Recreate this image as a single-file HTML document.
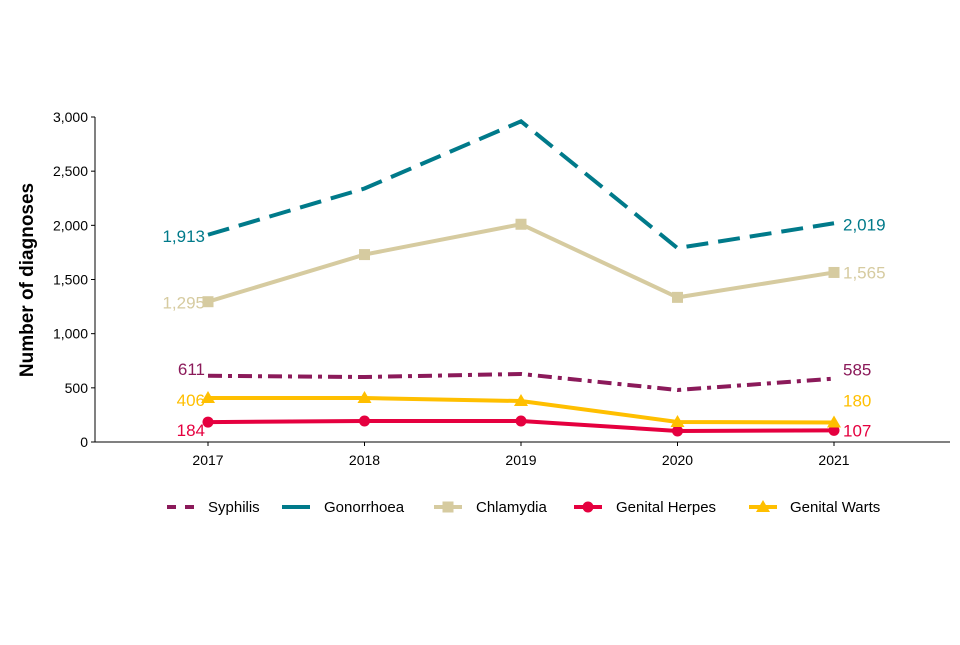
<!DOCTYPE html>
<html><head><meta charset="utf-8"><style>
body{margin:0;background:#fff;font-family:"Liberation Sans",Arial,sans-serif}
</style></head><body>
<svg id="chart" width="960" height="640" font-family="Liberation Sans, Arial, sans-serif"></svg>
<script>
const years=["2017","2018","2019","2020","2021"];
const syphilis=[611,600,628,480,585];
const gonorrhoea=[1913,2340,2960,1790,2019];
const chlamydia=[1295,1730,2010,1335,1565];
const herpes=[184,194,194,102,107];
const warts=[406,406,378,185,180];
const yTicks=[0,500,1000,1500,2000,2500,3000];
const NS="http://www.w3.org/2000/svg";
const svg=document.getElementById('chart');
const x=i=>208+i*156.5;
const y=v=>442-v/3000*325;
function el(t,a,p){const e=document.createElementNS(NS,t);for(const k in a)e.setAttribute(k,a[k]);(p||svg).appendChild(e);return e;}
function fmt(v){return v.toLocaleString('en-US');}
const axes=el('g',{});


el('line',{x1:95,y1:117,x2:95,y2:442,stroke:'#000','stroke-width':1},axes);
el('line',{x1:95,y1:442,x2:950,y2:442,stroke:'#000','stroke-width':1},axes);
yTicks.forEach(v=>{
 el('line',{x1:91,x2:95,y1:y(v),y2:y(v),stroke:'#000'},axes);
 const t=el('text',{x:88,y:y(v)+5,'text-anchor':'end','font-size':14,fill:'#000'},axes);t.textContent=fmt(v);
 
 
});
years.forEach((yr,i)=>{
 el('line',{x1:x(i),x2:x(i),y1:442,y2:446,stroke:'#000'},axes);
 const t=el('text',{x:x(i),y:465,'text-anchor':'middle','font-size':14},axes);t.textContent=yr;
 
 
});
const yt=el('text',{x:33,y:280,'text-anchor':'middle','font-size':19,'font-weight':'bold',transform:'rotate(-90 33 280)'});
yt.textContent='Number of diagnoses';


const series=[
 {name:'Syphilis',d:syphilis,c:'#8b1a5a',dash:'14 6 4 6',m:null,ls:-1,le:-3,lx:167,tx:208},
 {name:'Gonorrhoea',d:gonorrhoea,c:'#007a8a',dash:'22 10',m:null,ls:7,le:7,lx:282,tx:324},
 {name:'Chlamydia',d:chlamydia,c:'#d6cba0',dash:null,m:'sq',ls:7,le:6,lx:434,tx:476},
 {name:'Genital Herpes',d:herpes,c:'#e5003f',dash:null,m:'ci',ls:14,le:6,lx:574,tx:616},
 {name:'Genital Warts',d:warts,c:'#ffbf00',dash:null,m:'tri',ls:8,le:-16,lx:749,tx:790}
];
function marker(type,cx,cy,c,g){
 if(type==='sq')return el('rect',{x:cx-5.5,y:cy-5.5,width:11,height:11,fill:c},g);
 if(type==='ci')return el('circle',{cx:cx,cy:cy,r:5.5,fill:c},g);
 if(type==='tri')return el('polygon',{points:`${cx},${cy-7} ${cx+7},${cy+5} ${cx-7},${cy+5}`,fill:c},g);
}
series.forEach(s=>{
 const g=el('g',{});
 
 
 const a={points:s.d.map((v,i)=>x(i)+','+y(v)).join(' '),fill:'none',stroke:s.c,'stroke-width':4};
 if(s.dash)a['stroke-dasharray']=s.dash;
 el('polyline',a,g);
 if(s.m)s.d.forEach((v,i)=>{const m=marker(s.m,x(i),y(v),s.c,g);});
 const l=el('text',{x:x(0)-3,y:y(s.d[0])+s.ls,'text-anchor':'end','font-size':17,fill:s.c},g);l.textContent=fmt(s.d[0]);
 
 
 const r=el('text',{x:x(4)+9,y:y(s.d[4])+s.le,'text-anchor':'start','font-size':17,fill:s.c},g);r.textContent=fmt(s.d[4]);
 
 
});
const lg=el('g',{});


series.forEach((s,i)=>{
 const g=el('g',{},lg);
 
 
 const a={x1:s.lx,x2:s.lx+28,y1:507,y2:507,stroke:s.c,'stroke-width':4};
 if(s.dash)a['stroke-dasharray']=s.dash==='22 10'?'28 0':'9 9';
 el('line',a,g);
 if(s.m)marker(s.m,s.lx+14,507,s.c,g);
 const t=el('text',{x:s.tx,y:512,'font-size':15},g);t.textContent=s.name;
});
</script>
</body></html>
